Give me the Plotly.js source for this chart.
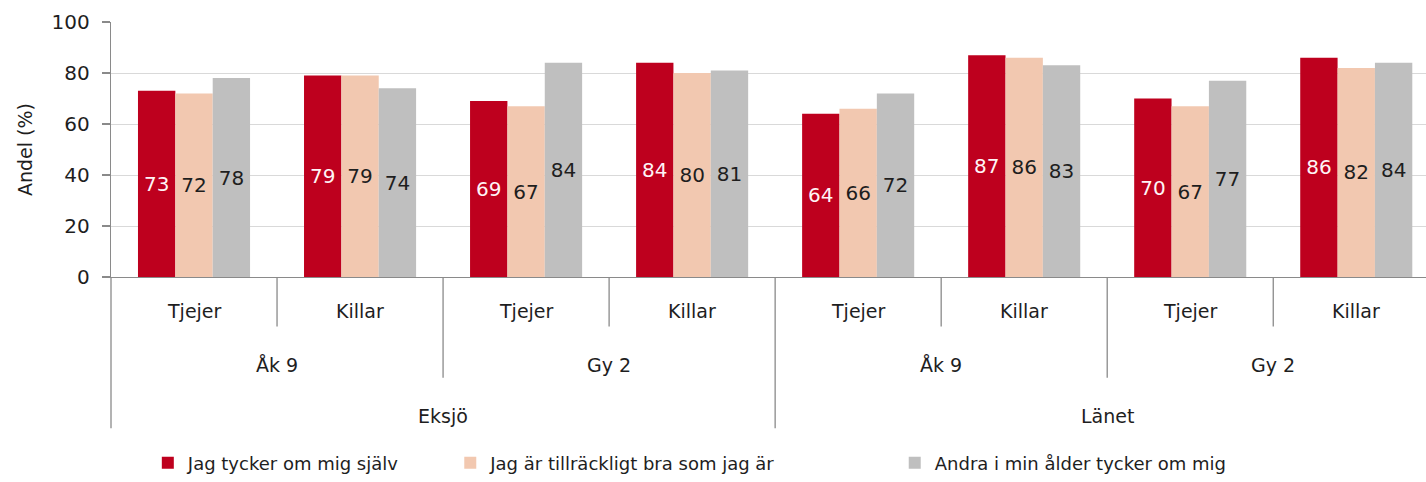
<!DOCTYPE html>
<html>
<head>
<meta charset="utf-8">
<script src="https://cdn.plot.ly/plotly-3.0.1.min.js"></script>
<style>
  html, body { margin: 0; padding: 0; background: #ffffff; }
  #chart { width: 1426px; height: 482px; }
</style>
</head>
<body>
<div id="chart"></div>
<script>
// ---- data ----
var level1 = ["Tjejer", "Killar", "Tjejer", "Killar", "Tjejer", "Killar", "Tjejer", "Killar"];
var level2 = ["Åk 9", "Gy 2", "Åk 9", "Gy 2"];
var level3 = ["Eksjö", "Länet"];
var seriesNames = ["Jag tycker om mig själv", "Jag är tillräckligt bra som jag är", "Andra i min ålder tycker om mig"];
var series1 = [73, 79, 69, 84, 64, 87, 70, 86];
var series2 = [72, 79, 67, 80, 66, 86, 67, 82];
var series3 = [78, 74, 84, 81, 72, 83, 77, 84];
var yTicks = [0, 20, 40, 60, 80, 100];

// ---- styles ----
var FONT = "DejaVu Sans, Verdana, sans-serif";
var colors = ["#be001e", "#f2c8b0", "#bfbfbf"];
var labelColors = ["#fff4f6", "#1e1e1e", "#1e1e1e"];
var axisColor = "#8a8a8a";
var legendIds = ["legend", "legend2", "legend3"];
var legendX = [0.028, 0.258, 0.596];

var xs = level1.map(function (_, i) { return i; });
var allSeries = [series1, series2, series3];

var traces = allSeries.map(function (vals, s) {
  return {
    type: "bar",
    name: seriesNames[s],
    legend: legendIds[s],
    x: xs,
    y: vals,
    text: vals.map(String),
    textposition: "inside",
    insidetextanchor: "middle",
    textangle: 0,
    constraintext: "none",
    textfont: { family: FONT, size: 20, color: labelColors[s] },
    marker: { color: colors[s], line: { width: 0 } },
    hoverinfo: "x+y+name"
  };
});

var xMax = 7.42;
var catFont = { family: FONT, size: 19, color: "#1e1e1e" };
var annotations = [];
level1.forEach(function (t, i) {
  annotations.push({ x: i, xref: "x", y: -0.135, yref: "paper", text: t, showarrow: false,
    font: catFont, xanchor: "center", yanchor: "middle" });
});
level2.forEach(function (t, j) {
  annotations.push({ x: 2 * j + 0.5, xref: "x", y: -0.345, yref: "paper", text: t, showarrow: false,
    font: catFont, xanchor: "center", yanchor: "middle" });
});
level3.forEach(function (t, k) {
  annotations.push({ x: 4 * k + 1.5, xref: "x", y: -0.547, yref: "paper", text: t, showarrow: false,
    font: catFont, xanchor: "center", yanchor: "middle" });
});

var shapes = [];
shapes.push({ type: "line", xref: "paper", x0: 0, x1: 0, yref: "paper", y0: 0, y1: -0.593,
  line: { color: axisColor, width: 1.3 } });
for (var b = 1; b < level1.length; b++) {
  var depth = (b % 4 === 0) ? -0.593 : (b % 2 === 0 ? -0.395 : -0.194);
  shapes.push({ type: "line", xref: "x", x0: b - 0.5, x1: b - 0.5, yref: "paper", y0: 0, y1: depth,
    line: { color: axisColor, width: 1.3 } });
}

function makeLegend(x) {
  return {
    orientation: "h",
    x: x,
    xanchor: "left",
    y: -0.73,
    yanchor: "middle",
    font: { family: FONT, size: 18, color: "#1e1e1e" },
    itemwidth: 30,
    bgcolor: "rgba(0,0,0,0)"
  };
}

var layout = {
  width: 1426,
  height: 482,
  margin: { l: 111, r: 0, t: 22, b: 202 },
  paper_bgcolor: "#ffffff",
  plot_bgcolor: "#ffffff",
  barmode: "group",
  bargap: 0.325,
  bargroupgap: 0,
  font: { family: FONT, size: 18, color: "#1e1e1e" },
  xaxis: {
    range: [-0.5, xMax],
    showticklabels: false,
    showgrid: false,
    zeroline: false,
    showline: true,
    linecolor: axisColor,
    linewidth: 1.3,
    ticks: "",
    fixedrange: true
  },
  yaxis: {
    range: [0, 100],
    tickvals: yTicks,
    ticktext: yTicks.map(String),
    ticks: "outside",
    ticklen: 8,
    tickcolor: axisColor,
    tickwidth: 1.3,
    ticklabelstandoff: 8,
    showline: true,
    linecolor: axisColor,
    linewidth: 1.3,
    showgrid: true,
    gridcolor: "#d9d9d9",
    gridwidth: 1,
    zeroline: false,
    tickfont: { family: FONT, size: 20, color: "#1e1e1e" },
    title: { text: "Andel (%)", font: { family: FONT, size: 19, color: "#1e1e1e" }, standoff: 14 },
    fixedrange: true
  },
  showlegend: true,
  legend: makeLegend(legendX[0]),
  legend2: makeLegend(legendX[1]),
  legend3: makeLegend(legendX[2]),
  annotations: annotations,
  shapes: shapes
};

Plotly.newPlot("chart", traces, layout, { displayModeBar: false, staticPlot: true });
</script>
</body>
</html>
